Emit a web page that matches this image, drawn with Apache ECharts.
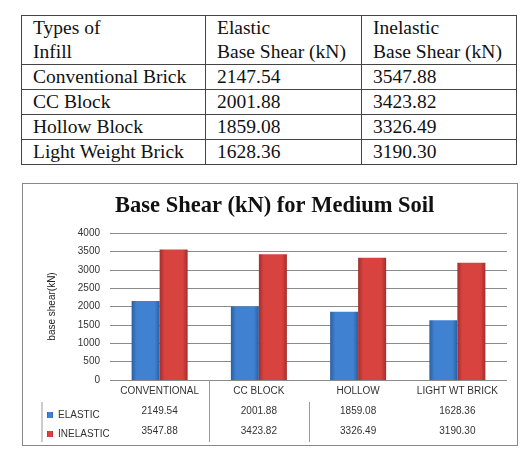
<!DOCTYPE html>
<html>
<head>
<meta charset="utf-8">
<script src="https://cdn.jsdelivr.net/npm/echarts@6/dist/echarts.min.js"></script>
<style>
  html, body { margin: 0; padding: 0; background: #fff; }
  #wrap { position: relative; width: 521px; height: 450px; overflow: hidden; }
  #charts { position: absolute; left: 0; top: 0; width: 521px; height: 450px; }
  #frame { position: absolute; left: 22px; top: 183px; width: 496px; height: 263px; border: 1px solid #888; box-sizing: border-box; }
  #tbl { position: absolute; left: 21px; top: 15px; border-collapse: collapse;
         font-family: "Liberation Serif", serif; font-size: 19.5px; color: #111; }
  #tbl td { border: 1.5px solid #444; padding: 0 0 0 11px; line-height: 24px; height: 24px; vertical-align: middle; }
</style>
</head>
<body>
<div id="wrap">
  <table id="tbl"></table>
  <div id="frame"></div>
  <div id="charts"></div>
</div>
<script>
// 表格数据
var tableHead = ['Types of<br>Infill', 'Elastic<br>Base Shear (kN)', 'Inelastic<br>Base Shear (kN)'];
var infillTypes = ['Conventional Brick', 'CC Block', 'Hollow Block', 'Light Weight Brick'];
var elasticTable = ['2147.54', '2001.88', '1859.08', '1628.36'];
var inelasticTable = ['3547.88', '3423.82', '3326.49', '3190.30'];

// 图表数据
var categories = ['CONVENTIONAL', 'CC BLOCK', 'HOLLOW', 'LIGHT WT BRICK'];
var elastic = [2149.54, 2001.88, 1859.08, 1628.36];
var inelastic = [3547.88, 3423.82, 3326.49, 3190.30];
var seriesNames = ['ELASTIC', 'INELASTIC'];

var widths = [172, 144, 143];
var html = '<tr>';
for (var i = 0; i < tableHead.length; i++) {
    html += '<td style="width:' + widths[i] + 'px;height:46px">' + tableHead[i] + '</td>';
}
html += '</tr>';
for (var i = 0; i < infillTypes.length; i++) {
    html += '<tr><td>' + infillTypes[i] + '</td><td>' + elasticTable[i] + '</td><td>' + inelasticTable[i] + '</td></tr>';
}
document.getElementById('tbl').innerHTML = html;

var chart = echarts.init(document.getElementById('charts'));

function barColor(dark, mid) {
    return new echarts.graphic.LinearGradient(0, 0, 1, 0, [
        { offset: 0, color: dark },
        { offset: 0.18, color: mid },
        { offset: 0.82, color: mid },
        { offset: 1, color: dark }
    ]);
}

var font = '"Liberation Sans", sans-serif';
var gridLeft = 110, gridRight = 14, gridTop = 233, gridBottom = 70;

function fmt(arr) {
    return arr.map(function (v) { return v.toFixed(2); });
}

var labelStyle = { color: '#333', fontSize: 10, fontFamily: font, margin: 6, interval: 0 };

var valueAxis = function (data, offset) {
    return {
        type: 'category',
        position: 'bottom',
        offset: offset,
        data: data,
        axisLine: { show: false },
        axisTick: { show: false },
        axisLabel: labelStyle
    };
};

var option = {
    animation: false,
    title: {
        text: 'Base Shear (kN) for Medium Soil',
        left: 110,
        top: 190,
        textStyle: { fontFamily: '"Liberation Serif", serif', fontWeight: 'bold', fontSize: 22.5, color: '#111' }
    },
    legend: {
        orient: 'vertical',
        left: 42,
        top: 405,
        itemWidth: 6,
        itemHeight: 6,
        itemGap: 9,
        icon: 'rect',
        data: seriesNames,
        textStyle: { fontSize: 10, fontFamily: font, color: '#333' }
    },
    grid: { left: gridLeft, right: gridRight, top: gridTop, bottom: gridBottom, containLabel: false },
    xAxis: [
        {
            type: 'category',
            data: categories,
            axisLine: { show: false },
            axisTick: { show: false },
            axisLabel: labelStyle
        },
        valueAxis(fmt(elastic), 20),
        valueAxis(fmt(inelastic), 40)
    ],
    yAxis: {
        type: 'value',
        min: 0,
        max: 4000,
        interval: 500,
        name: 'base shear(kN)',
        nameLocation: 'middle',
        nameGap: 53,
        nameTextStyle: { fontSize: 10, fontFamily: font, color: '#222' },
        axisLine: { show: false },
        axisTick: { show: false },
        axisLabel: {
            color: '#333', fontSize: 10, fontFamily: font, margin: 10,
            formatter: function (v) { return String(v); }
        },
        splitLine: { lineStyle: { color: '#8a8a8a', width: 1 } }
    },
    series: [
        {
            name: seriesNames[0],
            type: 'bar',
            data: elastic,
            barWidth: 28,
            barGap: '0%',
            itemStyle: { color: barColor('#2a5fa3', '#4181d1') }
        },
        {
            name: seriesNames[1],
            type: 'bar',
            data: inelastic,
            barWidth: 28,
            itemStyle: { color: barColor('#a42e2b', '#d9433f') }
        }
    ]
};

chart.setOption(option);

// 数据表分隔线
var plotW = 521 - gridLeft - gridRight;
var band = plotW / categories.length;
var lines = [
    { x: 42, y1: 402, y2: 442 },
    { x: Math.round(gridLeft + band) + 0.5, y1: 380, y2: 442 },
    { x: Math.round(gridLeft + band * 2) + 0.5, y1: 402, y2: 442 }
];
chart.setOption({
    graphic: lines.map(function (l) {
        return {
            type: 'line',
            shape: { x1: l.x, y1: l.y1, x2: l.x, y2: l.y2 },
            style: { stroke: '#9a9a9a', lineWidth: 1 }
        };
    })
});
</script>
</body>
</html>
